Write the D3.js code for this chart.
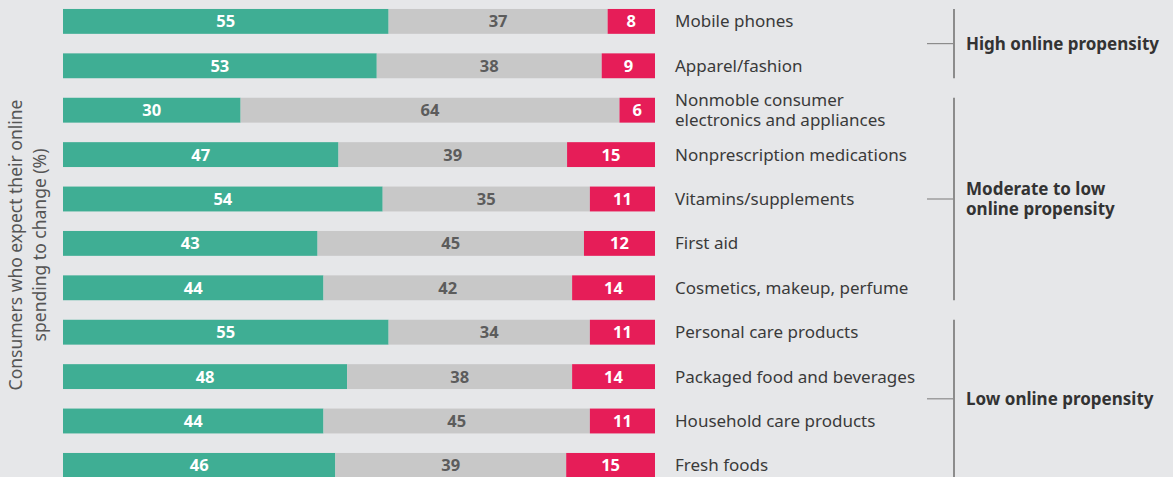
<!DOCTYPE html>
<html>
<head>
<meta charset="utf-8">
<script src="https://cdn.jsdelivr.net/npm/d3@7"></script>
<style>
  body { margin: 0; background: #e6e7e9; }
  svg { display: block; font-family: "Noto Sans", sans-serif; }
</style>
</head>
<body>
<svg id="chart" width="1173" height="477"></svg>
<script>
const categories = [
    "Mobile phones",
    "Apparel/fashion",
    "Nonmoble consumer|electronics and appliances",
    "Nonprescription medications",
    "Vitamins/supplements",
    "First aid",
    "Cosmetics, makeup, perfume",
    "Personal care products",
    "Packaged food and beverages",
    "Household care products",
    "Fresh foods"
];
const increase = [55, 53, 30, 47, 54, 43, 44, 55, 48, 44, 46];
const same = [37, 38, 64, 39, 35, 45, 42, 34, 38, 45, 39];
const decrease = [8, 9, 6, 15, 11, 12, 14, 11, 14, 11, 15];
const groupNames = ["High online propensity", "Moderate to low|online propensity", "Low online propensity"];
const groupFirst = [0, 2, 7];
const groupLast = [1, 6, 10];

const svg = d3.select("#chart");
const keys = ["increase", "same", "decrease"];
const colors = { increase: "#3fae94", same: "#c8c8c8", decrease: "#e61d58" };
const textColors = { increase: "#ffffff", same: "#5c5c5c", decrease: "#ffffff" };

const rows = categories.map((c, i) => ({ cat: c, increase: increase[i], same: same[i], decrease: decrease[i] }));

// shares of each row, so rows that sum to 101 still fill the bar
const stacked = d3.stack().keys(keys).offset(d3.stackOffsetExpand)(rows);

const x = d3.scaleLinear().domain([0, 1]).range([63, 655]);
const y = d3.scaleBand()
    .domain(categories)
    .range([-0.8, 487.6])
    .paddingInner(0.44)
    .paddingOuter(0.22);

const layer = svg.selectAll("g.layer")
    .data(stacked)
    .join("g")
    .attr("class", "layer");

layer.selectAll("rect")
    .data(d => d.map(p => ({ p: p, key: d.key })))
    .join("rect")
    .attr("x", d => x(d.p[0]))
    .attr("y", d => y(d.p.data.cat))
    .attr("width", d => x(d.p[1]) - x(d.p[0]))
    .attr("height", y.bandwidth())
    .attr("fill", d => colors[d.key]);

layer.selectAll("text")
    .data(d => d.map(p => ({ p: p, key: d.key })))
    .join("text")
    .attr("x", d => (x(d.p[0]) + x(d.p[1])) / 2)
    .attr("y", d => y(d.p.data.cat) + y.bandwidth() / 2)
    .attr("dy", "0.36em")
    .attr("text-anchor", "middle")
    .style("font-size", "16.5px")
    .style("font-weight", "bold")
    .style("fill", d => textColors[d.key])
    .text(d => d.p.data[d.key]);

// category labels
svg.selectAll("text.cat")
    .data(categories)
    .join("text")
    .attr("class", "cat")
    .attr("x", 675)
    .attr("y", d => y(d) + y.bandwidth() / 2)
    .style("font-size", "17px")
    .style("fill", "#3a3a3a")
    .each(function (d) {
        const lines = d.split("|");
        const t = d3.select(this);
        lines.forEach((ln, k) => {
            t.append("tspan")
                .attr("x", 675)
                .attr("dy", k === 0 ? (0.35 - (lines.length - 1) * 0.57) + "em" : "1.14em")
                .text(ln);
        });
    });

// group brackets
const bx = 954;
groupNames.forEach((g, i) => {
    const top = y(categories[groupFirst[i]]);
    const bottom = y(categories[groupLast[i]]) + y.bandwidth();
    const mid = (top + bottom) / 2;
    svg.append("line")
        .attr("x1", bx).attr("x2", bx)
        .attr("y1", top).attr("y2", bottom)
        .style("stroke", "#8c8c8c")
        .style("stroke-width", 2);
    svg.append("line")
        .attr("x1", 927).attr("x2", bx)
        .attr("y1", mid).attr("y2", mid)
        .style("stroke", "#8c8c8c")
        .style("stroke-width", 1.2);
    const lines = g.split("|");
    const t = svg.append("text")
        .attr("x", 966)
        .attr("y", mid)
        .style("font-size", "17px")
        .style("font-weight", "bold")
        .style("fill", "#333333");
    lines.forEach((ln, k) => {
        t.append("tspan")
            .attr("x", 966)
            .attr("dy", k === 0 ? (0.35 - (lines.length - 1) * 0.6) + "em" : "1.2em")
            .text(ln);
    });
});

// y axis title
const yTitle = svg.append("text")
    .attr("transform", "translate(28,245) rotate(-90)")
    .attr("text-anchor", "middle")
    .style("font-size", "17.5px")
    .style("fill", "#555555");
yTitle.append("tspan").attr("x", 0).attr("dy", "-0.37em").text("Consumers who expect their online");
yTitle.append("tspan").attr("x", 0).attr("dy", "1.42em").text("spending to change (%)");
</script>
</body>
</html>
